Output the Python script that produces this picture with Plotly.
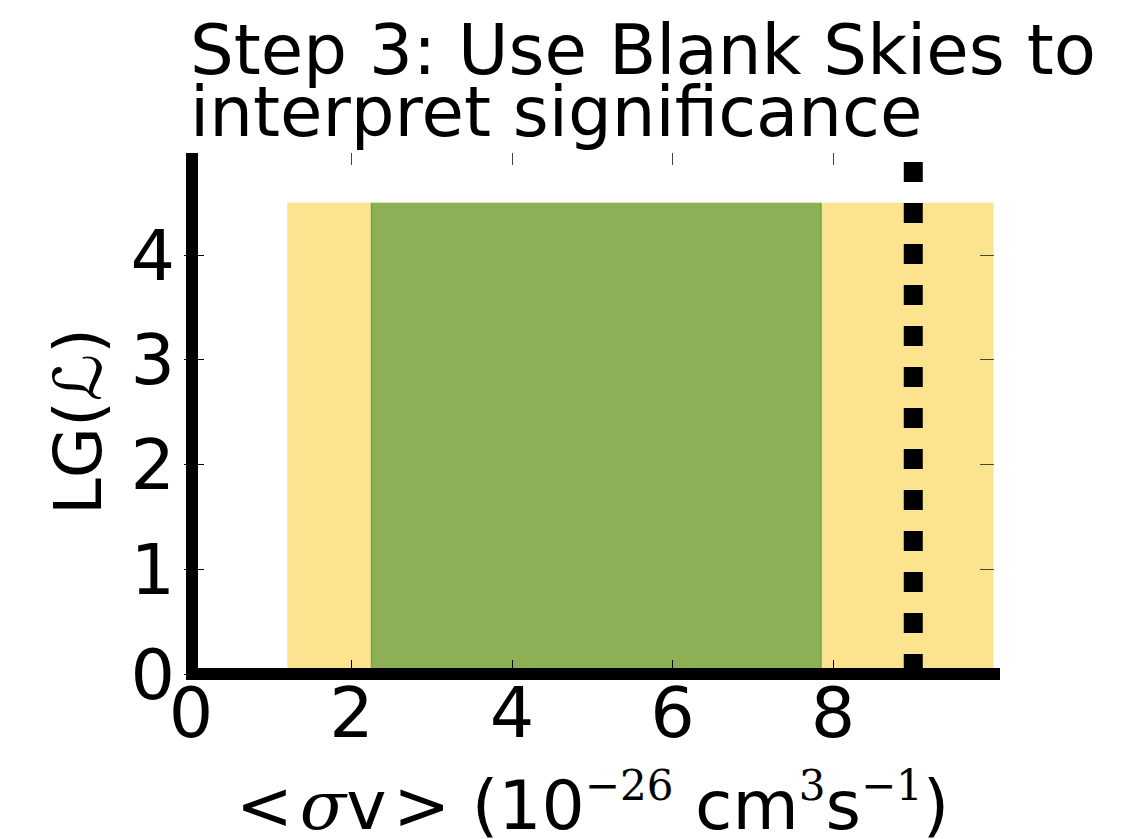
import plotly.graph_objects as go

# Interval bounds on <sigma v> (units of 1e-26 cm^3 s^-1)
outer_band = [1.2, 10.0]      # wide (yellow) interval
inner_band = [2.25, 7.85]     # narrow (green) interval
band_height = 4.5             # LG(L) extent of the shaded intervals
test_value = 9.0              # dotted reference value

x_ticks = [0, 2, 4, 6, 8]
y_ticks = [0, 1, 2, 3, 4]
x_range = [-0.0872, 10.006]
y_range = [-0.0573, 4.974]

YELLOW = "#FBE38F"
GREEN = "#8DAF55"
GREEN_EDGE = "#6EA840"
FONT = "DejaVu Sans"
SERIF = "DejaVu Serif"

# plot area in pixels
L, R, T, B = 184, 994, 153, 680
W, H = R - L, B - T


def px_x(p):
    return (p - L) / W


def px_y(p):
    return (B - p) / H


def box(lo, hi, top):
    return [lo, hi, hi, lo, lo], [0, 0, top, top, 0]


fig = go.Figure()

bx, by = box(outer_band[0], outer_band[1], band_height)
fig.add_trace(go.Scatter(x=bx, y=by, fill="toself", fillcolor=YELLOW,
                         mode="lines", line=dict(width=0), hoverinfo="skip"))

gx, gy = box(inner_band[0], inner_band[1], band_height)
fig.add_trace(go.Scatter(x=gx, y=gy, fill="toself", fillcolor=GREEN,
                         mode="lines", line=dict(width=0), hoverinfo="skip"))

# thin darker edges on the green interval
for edge in inner_band:
    fig.add_trace(go.Scatter(x=[edge, edge], y=[0, band_height], mode="lines",
                             line=dict(color=GREEN_EDGE, width=1.5),
                             hoverinfo="skip"))

# dotted vertical marker, drawn bottom to top
fig.add_trace(go.Scatter(x=[test_value, test_value], y=[0, y_range[1]],
                         mode="lines",
                         line=dict(color="black", width=19, dash="20px,21px"),
                         hoverinfo="skip"))

# carrier for the mirrored top/right tick axes
fig.add_trace(go.Scatter(x=outer_band, y=[0, 0], mode="none",
                         xaxis="x2", yaxis="y2", hoverinfo="skip"))

axis_common = dict(showgrid=False, zeroline=False, showline=False,
                   ticks="inside", tickwidth=1, tickcolor="black", ticklen=20,
                   tickfont=dict(family=FONT, size=70, color="black"))

fig.update_layout(
    width=1121, height=839,
    margin=dict(l=L, r=1121 - R, t=T, b=839 - B),
    plot_bgcolor="white", paper_bgcolor="white",
    showlegend=False,
    font=dict(family=FONT, color="black"),
    xaxis=dict(range=x_range, tickvals=x_ticks, ticklabelstandoff=-14,
               **axis_common),
    yaxis=dict(range=y_range, tickvals=y_ticks, ticklabelstandoff=8,
               **axis_common),
    xaxis2=dict(range=x_range, overlaying="x", side="top", tickvals=x_ticks,
                ticks="inside", ticklen=12, tickwidth=1, tickcolor="#444",
                showticklabels=False, showgrid=False, zeroline=False),
    yaxis2=dict(range=y_range, overlaying="y", side="right", tickvals=y_ticks,
                ticks="inside", ticklen=14, tickwidth=1, tickcolor="#444",
                showticklabels=False, showgrid=False, zeroline=False),
)

# thick left and bottom spines
fig.add_shape(type="line", xref="paper", yref="paper",
              x0=px_x(192), x1=px_x(192), y0=px_y(680), y1=px_y(153),
              line=dict(color="black", width=12), layer="above")
fig.add_shape(type="line", xref="paper", yref="paper",
              x0=px_x(186), x1=px_x(1000), y0=px_y(674), y1=px_y(674),
              line=dict(color="black", width=12), layer="above")

# two-line title (box bottom sits one descent below each baseline)
title_fs = 69
desc = round(0.236 * title_fs) + 1
fig.add_annotation(text="Step 3: Use Blank Skies to", xref="paper", yref="paper",
                   x=px_x(188), y=px_y(75 + desc),
                   xanchor="left", yanchor="bottom", showarrow=False,
                   font=dict(family=FONT, size=title_fs, color="black"))
fig.add_annotation(text="interpret significance", xref="paper", yref="paper",
                   x=px_x(188), y=px_y(137 + desc),
                   xanchor="left", yanchor="bottom", showarrow=False,
                   font=dict(family=FONT, size=title_fs, color="black"))

# axis titles
fig.add_annotation(text="LG(ℒ)", xref="paper", yref="paper",
                   x=px_x(78), y=px_y(422),
                   xanchor="center", yanchor="middle", textangle=-90,
                   showarrow=False, font=dict(family=FONT, size=66, color="black"))

sup_style = f"font-family:{SERIF};font-size:42px"
xlabel_fs = 68
fig.add_annotation(
    text=(f"&lt;\u200a<span style='font-family:{SERIF}'><i>σ</i></span>v\u200a&gt; "
          f"(10<sup><span style='{sup_style}'>−26</span></sup> "
          f"cm<sup><span style='{sup_style}'>3</span></sup>"
          f"s<sup><span style='{sup_style}'>−1</span></sup>)"),
    xref="paper", yref="paper",
    x=px_x(592), y=px_y(830 + round(0.236 * xlabel_fs) + 1),
    xanchor="center", yanchor="bottom", showarrow=False,
    font=dict(family=FONT, size=xlabel_fs, color="black"))

fig.write_html("out.html")
